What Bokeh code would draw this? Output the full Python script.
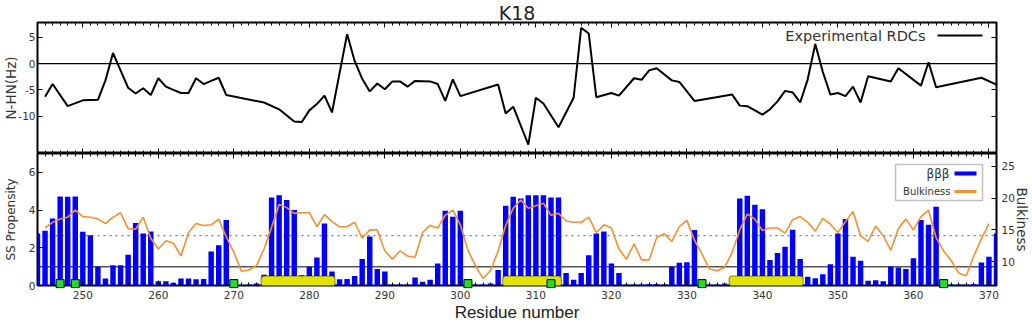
from bokeh.plotting import figure
from bokeh.models import (Range1d, LinearAxis, SingleIntervalTicker, FixedTicker,
                          Span, BoxAnnotation, Label, Title, CustomLabelingPolicy)
from bokeh.layouts import column
from bokeh.embed import file_html
from bokeh.resources import INLINE

# ---------------------------------------------------------------- data
# residual dipolar couplings (N-HN, Hz) of K18
rdc_residue = [245, 246, 248, 250, 252, 253, 254, 255, 256, 257, 258, 259, 260, 261, 262, 263, 264,
               265, 266, 267, 268, 269, 274, 276, 278, 279, 280, 281, 282, 283, 285, 286, 287, 288,
               289, 290, 291, 292, 293, 294, 296, 297, 298, 299, 300, 305, 306, 307, 309, 310, 311,
               313, 315, 316, 317, 318, 320, 321, 323, 324, 325, 326, 328, 329, 331, 336, 337, 338,
               340, 341, 342, 343, 344, 345, 346, 347, 348, 349, 350, 351, 352, 353, 354, 357, 358,
               361, 362, 363, 369, 371]
rdc_hz = [-6.3, -3.9, -8.1, -7.0, -6.9, -3.2, 2.0, -1.3, -4.6, -5.7, -4.7, -6.0, -2.8, -4.4, -5.0, -5.6, -5.6,
          -2.8, -3.9, -3.3, -2.7, -6.0, -7.4, -8.7, -11.0, -11.1, -8.9, -7.7, -6.1, -9.3, 5.6, 0.5, -2.9, -5.3,
          -3.8, -4.9, -3.4, -3.4, -4.4, -3.3, -3.4, -3.9, -7.1, -3.0, -6.2, -4.0, -9.5, -8.2, -15.4, -6.5, -7.6,
          -12.1, -6.5, 6.8, 5.7, -6.4, -5.6, -6.1, -2.8, -3.1, -1.3, -0.9, -3.2, -3.5, -7.1, -5.9, -8.0, -8.1,
          -9.7, -8.7, -7.2, -5.2, -5.5, -7.4, -3.0, 3.7, -1.6, -5.9, -5.6, -6.2, -4.4, -7.4, -2.4, -3.4, -0.9,
          -4.2, 0.25, -4.5, -2.7, -4.0]

# beta-beta-beta secondary structure propensity, residues 244-371
ss_residue = list(range(244, 372))
ss_propensity = [2.76, 2.9, 3.55, 4.72, 4.7, 4.72, 2.85, 2.67, 1.01, 0.37,
                 1.08, 1.08, 1.63, 3.31, 2.76, 2.87, 0.22, 0.22, 0.15, 0.37,
                 0.37, 0.33, 0.35, 1.8, 2.14, 3.48, 0.0, 0.04, 0.05, 0.1,
                 0.57, 4.67, 4.79, 4.53, 4.0, 0.55, 1.0, 1.49, 3.29, 0.74,
                 0.33, 0.35, 0.51, 1.4, 2.6, 0.87, 0.74, 0.05, 0.05, 0.05,
                 0.43, 0.2, 0.3, 1.17, 3.96, 3.64, 3.96, 0.0, 0.05, 0.05,
                 0.1, 0.82, 4.23, 4.7, 4.62, 4.79, 4.79, 4.79, 4.67, 4.67,
                 0.66, 0.3, 0.66, 1.61, 2.76, 2.87, 1.17, 0.66, 0.05, 0.05,
                 0.05, 0.08, 0.08, 0.05, 1.0, 1.2, 1.23, 2.94, 0.0, 0.05,
                 0.05, 0.1, 0.4, 4.62, 4.76, 4.28, 4.05, 1.35, 1.72, 2.05,
                 2.95, 1.4, 0.46, 0.39, 0.6, 1.13, 2.76, 3.52, 1.52, 1.31,
                 0.25, 0.28, 0.22, 1.01, 0.96, 0.87, 1.45, 3.48, 3.22, 4.17,
                 0.0, 0.05, 0.05, 0.05, 0.08, 1.22, 1.52, 2.76]

# side-chain bulkiness profile, residues 245-370
bulk_residue = list(range(245, 371))
bulkiness = [15.3, 16.2, 16.7, 17.0, 18.1, 17.1, 17.0, 16.7, 16.0, 17.0,
             17.7, 15.2, 15.1, 17.0, 13.7, 12.0, 13.3, 12.9, 10.9, 14.6,
             16.0, 15.7, 15.8, 16.7, 13.9, 11.5, 8.5, 8.7, 9.4, 12.0,
             15.4, 19.0, 18.5, 17.6, 17.7, 17.7, 15.5, 17.4, 16.3, 15.5,
             15.5, 16.2, 13.7, 15.0, 15.0, 11.7, 10.4, 11.7, 10.9, 10.7,
             14.6, 15.7, 15.3, 17.3, 18.1, 15.8, 11.8, 9.4, 7.4, 8.6,
             11.7, 15.7, 18.4, 19.7, 18.4, 18.8, 19.2, 17.3, 17.6, 16.4,
             16.2, 16.2, 17.0, 14.6, 15.8, 15.3, 12.0, 10.4, 12.8, 10.3,
             10.3, 13.8, 14.4, 13.2, 15.5, 16.5, 13.4, 11.2, 8.85, 8.6,
             9.1, 11.5, 15.0, 17.5, 16.7, 14.9, 15.3, 15.3, 14.5, 16.6,
             17.1, 16.2, 14.8, 16.8, 15.9, 14.6, 16.3, 17.9, 14.1, 13.2,
             15.6, 14.1, 11.8, 15.2, 16.7, 15.0, 17.1, 18.1, 13.8, 11.7,
             10.2, 8.2, 7.8, 10.9, 13.6, 16.0]
bulk_mean = 14.1
ss_threshold = 1.0

# proline positions and beta-strand segments
proline_residue = [247, 249, 270, 301, 312, 332, 364]
strand_start = [274, 306, 336]
strand_end = [283, 313, 345]

rdc_ticks = [-10, -5, 0, 5]
ss_ticks = [0, 2, 4, 6]
bulk_ticks = [10, 15, 20, 25]

# ---------------------------------------------------------------- style
W = 1032
X_RANGE = (244, 371)
FONT = "DejaVu Sans"
TICK_SIZE = "10.5px"
TEXT_COLOR = "#333333"
BLUE = "#0000ff"
ORANGE = "#f7902f"


def style_axis(ax, labels=True, standoff=2):
    ax.axis_line_color = None
    ax.major_tick_in = 5
    ax.major_tick_out = 0
    ax.minor_tick_in = 3
    ax.minor_tick_out = 0
    ax.major_tick_line_color = "black"
    ax.minor_tick_line_color = "black"
    ax.major_label_text_font = FONT
    ax.major_label_text_color = TEXT_COLOR
    ax.axis_label_text_font = FONT
    ax.axis_label_text_font_style = "normal"
    ax.axis_label_text_color = TEXT_COLOR
    ax.major_label_text_font_size = TICK_SIZE
    ax.major_label_standoff = standoff
    if not labels:
        # tick marks only, drawn on the frame edge
        ax.major_label_policy = CustomLabelingPolicy(code="return []")


def residue_axis(labels, fixed=None, standoff=5):
    ax = LinearAxis(ticker=SingleIntervalTicker(interval=10, num_minor_ticks=10),
                    fixed_location=fixed)
    style_axis(ax, labels, standoff)
    return ax


def value_axis(ticks, labels, range_name="default", fixed=None, standoff=2):
    ax = LinearAxis(ticker=FixedTicker(ticks=ticks), y_range_name=range_name,
                    fixed_location=fixed)
    style_axis(ax, labels, standoff)
    ax.minor_tick_line_color = None
    # plain hyphen for negative tick values
    ax.major_label_overrides = {t: str(t) for t in ticks if t < 0}
    return ax


def screen_box(p, left, right, bottom, top, **kw):
    p.add_layout(BoxAnnotation(left=left, right=right, bottom=bottom, top=top,
                               left_units="screen", right_units="screen",
                               bottom_units="screen", top_units="screen",
                               fill_alpha=1, **kw))


def screen_text(p, txt, x, y, size, align="right"):
    p.add_layout(Label(x=x, y=y, x_units="screen", y_units="screen", text=txt,
                       text_font=FONT, text_font_size=size, text_color=TEXT_COLOR,
                       text_align=align, text_baseline="middle"))


def base_figure(height, y_range, top, bottom):
    p = figure(width=W, height=height, x_range=Range1d(*X_RANGE), y_range=y_range,
               output_backend="svg", toolbar_location=None,
               x_axis_location=None, y_axis_location=None,
               min_border_left=37, min_border_right=36,
               min_border_top=top, min_border_bottom=bottom)
    p.grid.visible = False
    p.outline_line_color = "black"
    p.outline_line_width = 2
    p.background_fill_color = "white"
    p.border_fill_color = "white"
    return p


# ---------------------------------------------------------------- RDC panel
RDC_RANGE = (-17.1, 7.8)
top = base_figure(153, Range1d(*RDC_RANGE), top=22, bottom=0)
top.add_layout(Title(text="K18", align="center", text_font=FONT, text_font_size="19px",
                     text_font_style="normal", text_color="#222222", standoff=-2), "above")
rdc_axis = value_axis(rdc_ticks, True)
rdc_axis.axis_label = "N-HN(Hz)"
rdc_axis.axis_label_text_font_size = "13.5px"
rdc_axis.axis_label_standoff = -4
top.add_layout(rdc_axis, "left")
top.add_layout(value_axis(rdc_ticks, False, fixed=X_RANGE[1]), "right")
top.add_layout(residue_axis(False, fixed=RDC_RANGE[1]), "above")
top.add_layout(residue_axis(False, fixed=RDC_RANGE[0]), "below")

top.add_layout(Span(location=0, dimension="width", line_color="black",
                    line_width=1.2, level="underlay"))
top.line(rdc_residue, rdc_hz, line_color="black", line_width=2)

# legend: label followed by its line sample
screen_text(top, "Experimental RDCs", 888, 118, "14.5px")
screen_box(top, 900, 945, 117, 119, fill_color="black", line_color=None)

# ---------------------------------------------------------------- SS / bulkiness panel
SS_RANGE = (0, 7.0)
bot = base_figure(171, Range1d(*SS_RANGE), top=0, bottom=39)
bot.extra_y_ranges = {"bulk": Range1d(6.27, 27.0)}
ss_axis = value_axis(ss_ticks, True)
ss_axis.axis_label = "SS Propensity"
ss_axis.axis_label_text_font_size = "12px"
ss_axis.axis_label_standoff = 8
bot.add_layout(ss_axis, "left")
bulk_axis = value_axis(bulk_ticks, True, "bulk", standoff=5)
bulk_axis.axis_label = "Bulkiness"
bulk_axis.axis_label_text_font_size = "13.5px"
bulk_axis.axis_label_standoff = -4
bot.add_layout(bulk_axis, "right")
bot.add_layout(residue_axis(False, fixed=SS_RANGE[1]), "above")
res_axis = residue_axis(True, standoff=5)
res_axis.axis_label = "Residue number"
res_axis.axis_label_text_font = "Liberation Sans"
res_axis.axis_label_text_font_size = "17px"
res_axis.axis_label_text_color = "#222222"
res_axis.axis_label_standoff = 1
bot.add_layout(res_axis, "below")

bot.add_layout(Span(location=ss_threshold, dimension="width", line_color="#555555",
                    line_width=1.5, level="underlay"))
bot.add_layout(Span(location=bulk_mean, dimension="width", y_range_name="bulk",
                    line_color="#777777", line_width=1.3, line_dash="2 4",
                    level="underlay"))

bot.vbar(x=ss_residue, top=ss_propensity, width=0.72, fill_color=BLUE, line_color=None)
bot.line(bulk_residue, bulkiness, y_range_name="bulk", line_color=ORANGE, line_width=1.6)

for s, e in zip(strand_start, strand_end):
    bot.add_layout(BoxAnnotation(left=s - 0.4, right=e + 0.4, bottom=-0.05, top=0.5,
                                 fill_color="#e3e300", fill_alpha=1,
                                 line_color="black", line_width=1.5, border_radius=3))

bot.scatter(proline_residue, [0.1] * len(proline_residue), marker="square",
            size=8, fill_color="#22dd22", line_color="black", line_width=1, level="overlay")

# legend box with labels before their samples
screen_box(bot, 858, 945, 85, 121, fill_color="white", line_color="#333333", line_width=1.5)
screen_text(bot, "βββ", 912, 112, "12px")
screen_box(bot, 917, 939, 110, 114, fill_color=BLUE, line_color=None)
screen_text(bot, "Bulkiness", 913, 94, "10px")
screen_box(bot, 917, 939, 92.5, 95.5, fill_color=ORANGE, line_color=None)

layout = column(top, bot, spacing=0)
open("out.html", "w").write(file_html(layout, INLINE))
